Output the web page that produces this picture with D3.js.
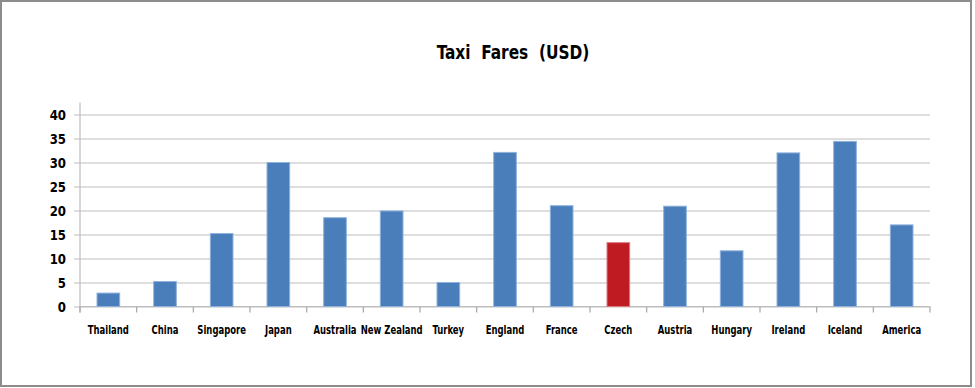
<!DOCTYPE html>
<html>
<head>
<meta charset="utf-8">
<script src="https://cdn.jsdelivr.net/npm/d3@7"></script>
<style>
  body { margin: 0; background: #fff; }
  .title { font-family: "DejaVu Sans Condensed", "DejaVu Sans", sans-serif; font-weight: bold; font-size: 19px; }
  .tick text { font-family: "DejaVu Sans Condensed", "DejaVu Sans", sans-serif; font-weight: bold; fill: #000; }
</style>
</head>
<body>
<div id="chart"></div>
<script>
// chart data
var countries = ["Thailand", "China", "Singapore", "Japan", "Australia", "New Zealand", "Turkey",
  "England", "France", "Czech", "Austria", "Hungary", "Ireland", "Iceland", "America"];
var fares = [2.8, 5.2, 15.2, 30, 18.5, 19.9, 5, 32.1, 21, 13.3, 20.9, 11.6, 32, 34.4, 17];
var yTicks = [0, 5, 10, 15, 20, 25, 30, 35, 40];
var highlight = "Czech";

// svg params
var svgWidth = 975;
var svgHeight = 388;

var margin = { top: 114.5, right: 45, bottom: 81.5, left: 80 };
var width = 930 - margin.left;
var height = 306.5 - margin.top;

var svg = d3.select("#chart")
  .append("svg")
  .attr("width", svgWidth)
  .attr("height", svgHeight);

// outer frame
svg.append("rect")
  .attr("x", 1)
  .attr("y", 1)
  .attr("width", 970)
  .attr("height", 385)
  .attr("fill", "#fff")
  .attr("stroke", "#8c8c8c")
  .attr("stroke-width", 2);

// title (squeezed a bit, the original font is narrow)
svg.append("text")
  .attr("class", "title")
  .attr("transform", "translate(513, 59) scale(0.9, 1)")
  .attr("text-anchor", "middle")
  .style("white-space", "pre")
  .text("Taxi  Fares  (USD)");

var chartGroup = svg.append("g")
  .attr("transform", `translate(${margin.left}, ${margin.top})`);

// scales
var xBandScale = d3.scaleBand()
  .domain(countries)
  .range([0, width])
  .paddingInner(0.6)
  .paddingOuter(0.3);

var yLinearScale = d3.scaleLinear()
  .domain([0, 40])
  .range([height, 0]);

// gridlines + y labels
var leftAxis = d3.axisLeft(yLinearScale)
  .tickValues(yTicks)
  .tickSize(-width - 6)
  .tickPadding(8)
  .tickFormat(d3.format("d"));

var yAxisG = chartGroup.append("g")
  .attr("transform", "translate(-6, 0)")
  .call(leftAxis);
yAxisG.select(".domain").remove();
yAxisG.selectAll(".tick line")
  .attr("stroke", "#bdbdbd")
  .attr("stroke-width", 1.2);
yAxisG.selectAll(".tick text")
  .style("font-size", "14.5px")
  .attr("x", 0)
  .attr("transform", "translate(-8, 0) scale(0.9, 1)");

// vertical axis line
chartGroup.append("line")
  .attr("x1", 0).attr("x2", 0)
  .attr("y1", -12).attr("y2", height + 6)
  .attr("stroke", "#bdbdbd")
  .attr("stroke-width", 1.2);

// bottom axis with ticks at category boundaries
var step = xBandScale.step();
var boundaries = d3.range(countries.length + 1).map(i => i * step);
chartGroup.append("g")
  .attr("transform", `translate(0, ${height})`)
  .selectAll("line")
  .data(boundaries)
  .enter()
  .append("line")
  .attr("x1", d => d).attr("x2", d => d)
  .attr("y1", 0).attr("y2", 6)
  .attr("stroke", "#a6a6a6")
  .attr("stroke-width", 1.2);

chartGroup.append("line")
  .attr("x1", 0).attr("x2", width)
  .attr("y1", height).attr("y2", height)
  .attr("stroke", "#bdbdbd")
  .attr("stroke-width", 1.2);

var bottomAxis = d3.axisBottom(xBandScale).tickSize(0).tickPadding(18);
var xAxisG = chartGroup.append("g")
  .attr("transform", `translate(0, ${height})`)
  .call(bottomAxis);
xAxisG.select(".domain").remove();
xAxisG.selectAll(".tick text")
  .style("font-size", "11.5px")
  .attr("y", 0)
  .attr("transform", "translate(0, 19) scale(0.82, 1)");

// bars
chartGroup.selectAll(".bar")
  .data(countries)
  .enter()
  .append("rect")
  .attr("class", "bar")
  .attr("x", d => xBandScale(d))
  .attr("y", (d, i) => yLinearScale(fares[i]))
  .attr("width", xBandScale.bandwidth())
  .attr("height", (d, i) => height - yLinearScale(fares[i]))
  .attr("fill", d => d === highlight ? "#be1b22" : "#4a7ebb")
  .attr("stroke", d => d === highlight ? "#e0787c" : "#8fb2dc")
  .attr("stroke-width", 1);
</script>
</body>
</html>
